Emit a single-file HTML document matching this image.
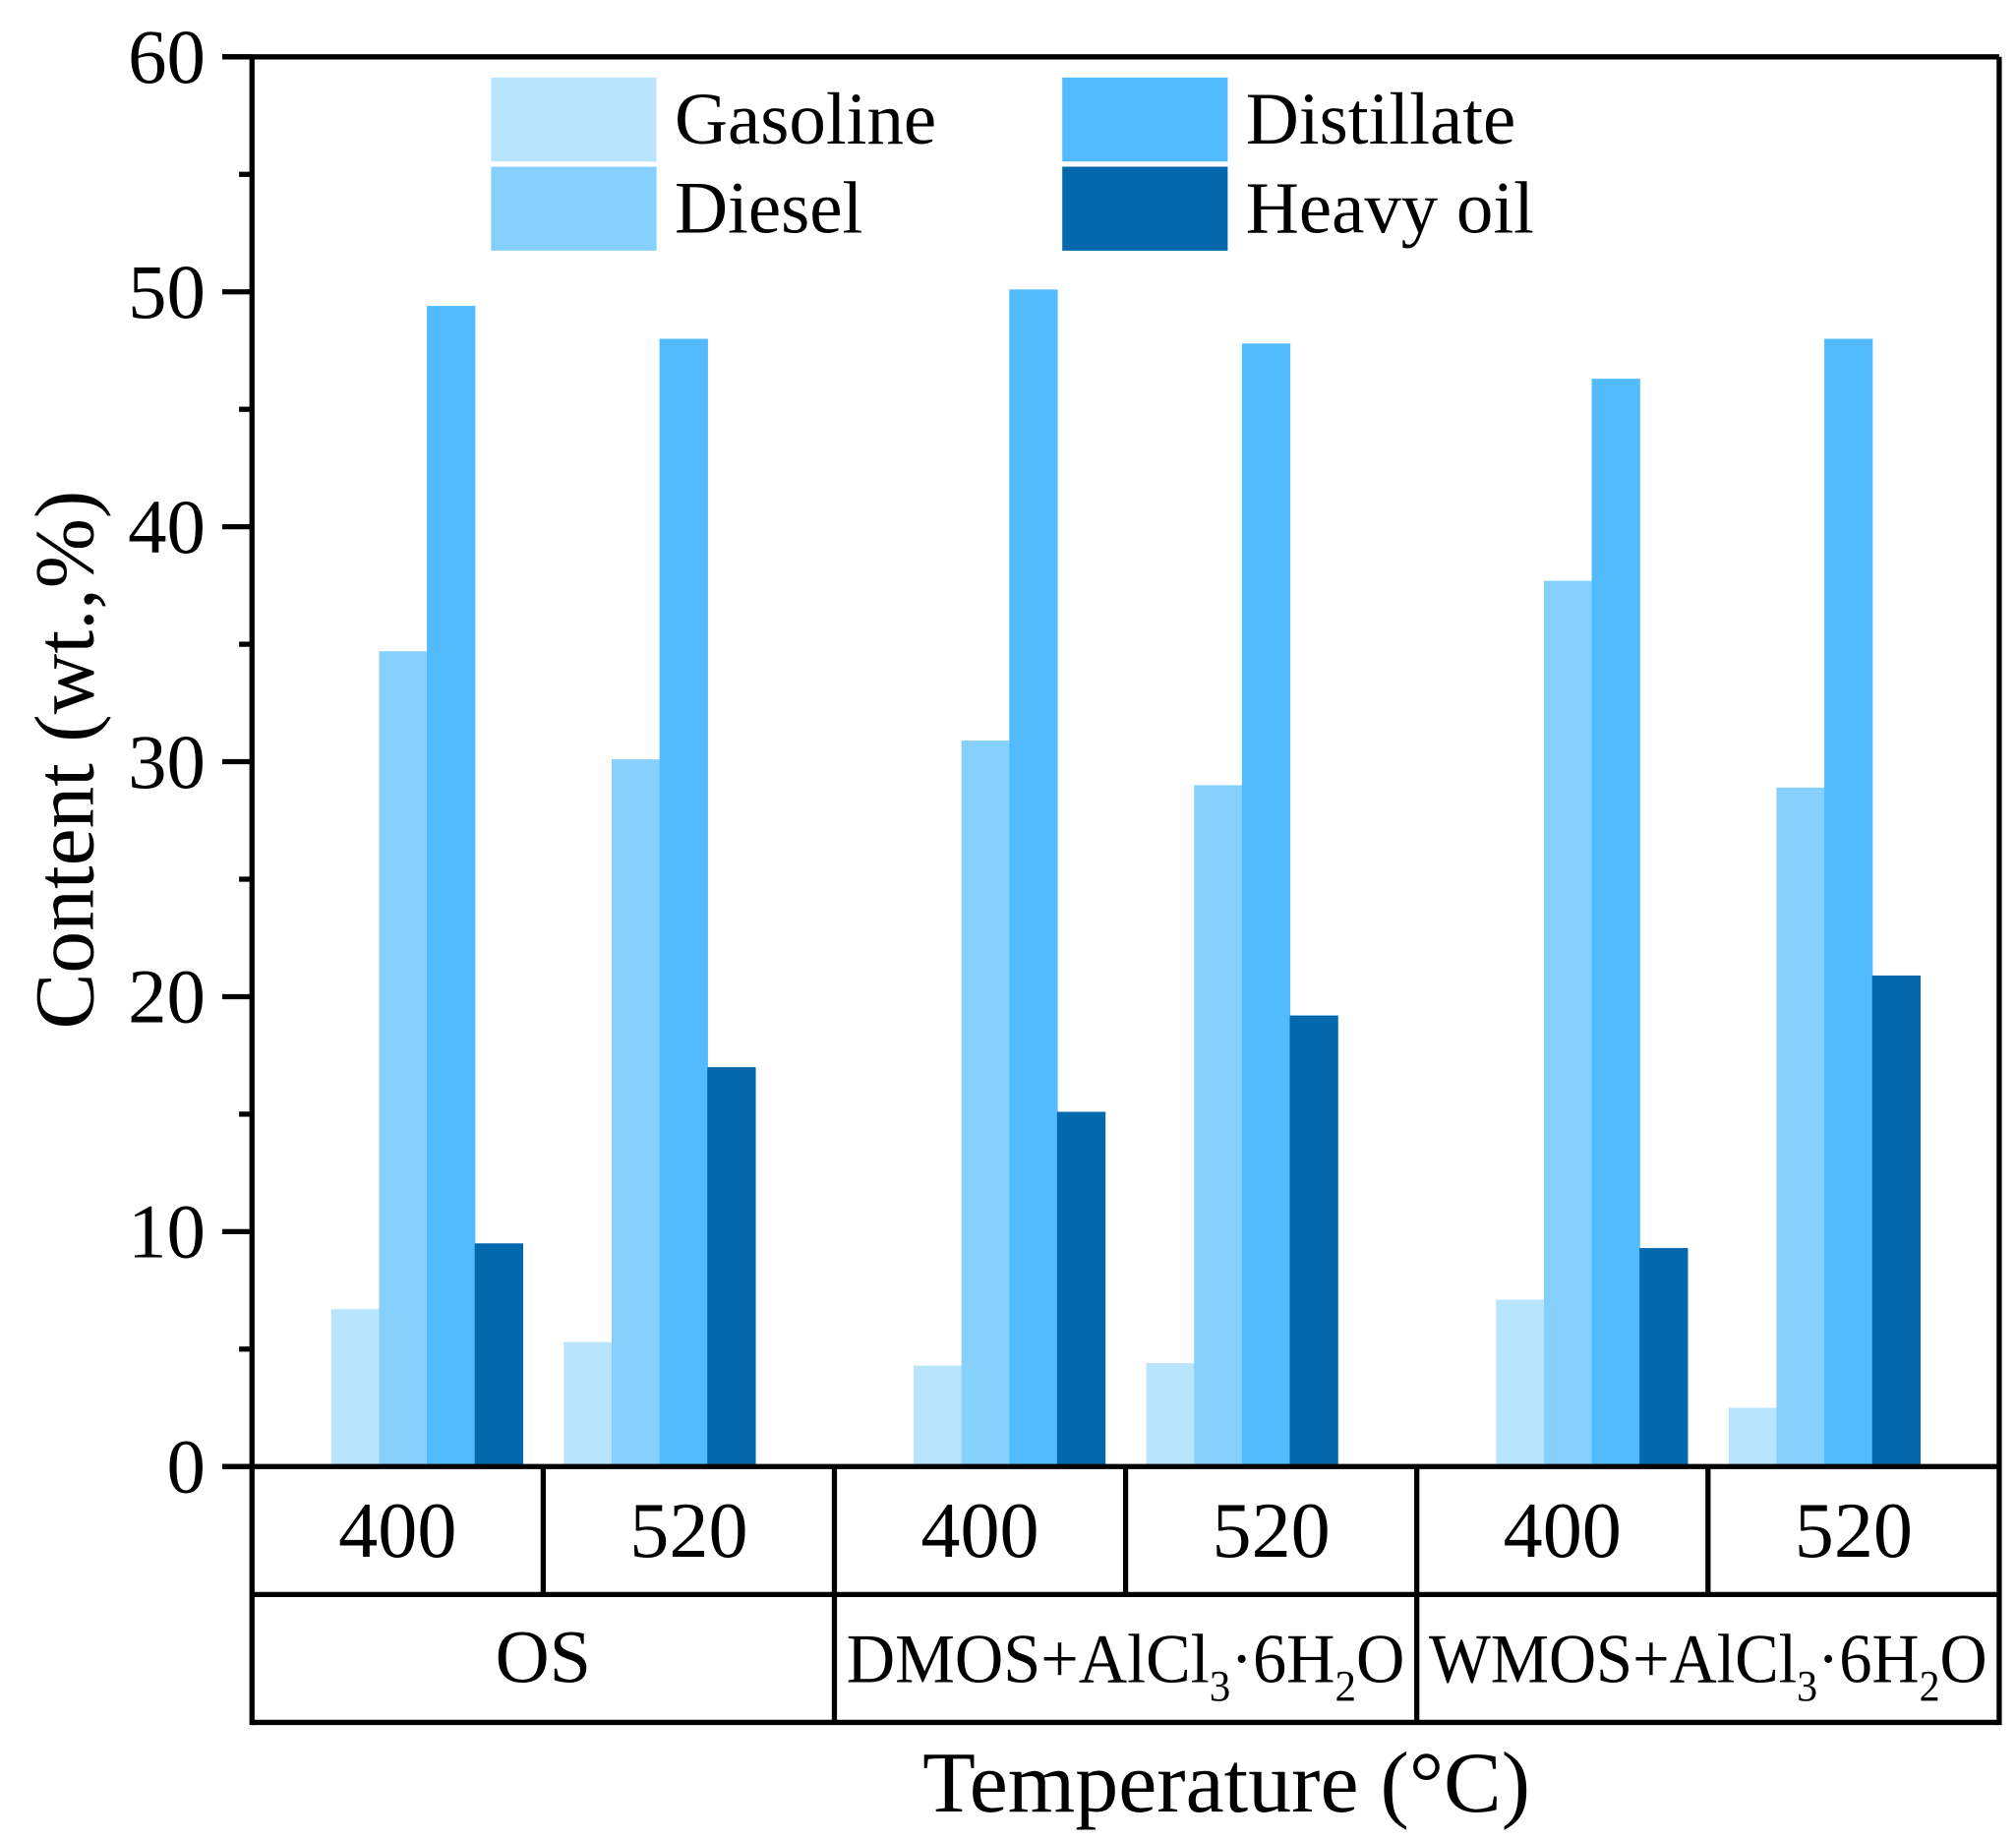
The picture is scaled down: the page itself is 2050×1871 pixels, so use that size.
<!DOCTYPE html>
<html><head><meta charset="utf-8"><style>
html,body{margin:0;padding:0;background:#fff;}
svg{display:block;font-family:"Liberation Serif",serif;}
</style></head><body>
<svg id="chart" width="2050" height="1871" viewBox="0 0 1560 1424" preserveAspectRatio="none" xmlns="http://www.w3.org/2000/svg">
<g id="bars"></g>
<g id="axes"></g>
<g id="legend"></g>
<text x="0" y="0" transform="translate(72,588) rotate(-90)" text-anchor="middle" font-size="65">Content (wt.,%)</text>
<text x="949" y="1402" text-anchor="middle" font-size="67">Temperature (°C)</text>
</svg>
<script>
const groups = ["OS", "DMOS", "WMOS"];
const temps = ["400", "520"];
const seriesNames = ["Gasoline", "Diesel", "Distillate", "Heavy oil"];
const gasoline = [6.7, 5.3, 4.3, 4.4, 7.1, 2.5];
const diesel = [34.7, 30.1, 30.9, 29.0, 37.7, 28.9];
const distillate = [49.4, 48.0, 50.1, 47.8, 46.3, 48.0];
const heavyOil = [9.5, 17.0, 15.1, 19.2, 9.3, 20.9];
const yTicks = [0, 10, 20, 30, 40, 50, 60];

const NS = "http://www.w3.org/2000/svg";
const colors = ["#b9e4fd", "#86d0fd", "#52bbfd", "#0369ac"];
const series = [gasoline, diesel, distillate, heavyOil];
const X0 = 195, X1 = 1547, Y0 = 1135, YT = 44;
const yMax = 60;
function yScale(v) { return Y0 - (v / yMax) * (Y0 - YT); }
const groupW = (X1 - X0) / groups.length;
const cellW = groupW / 2;
const barW = 37;
function barCenter(i) {
  const g = Math.floor(i / 2), t = i % 2;
  return X0 + groupW * (g + 0.5) + (t === 0 ? -90 : 90);
}
function mk(tag, attrs, parent) {
  const e = document.createElementNS(NS, tag);
  for (const k in attrs) e.setAttribute(k, attrs[k]);
  parent.appendChild(e);
  return e;
}
const barsG = document.getElementById('bars');
series.forEach((vals, s) => {
  vals.forEach((v, i) => {
    const x = barCenter(i) - 2 * barW + s * barW;
    const r = mk('rect', {x: x, y: yScale(v), width: barW + 0.5, height: Y0 - yScale(v), fill: colors[s]}, barsG);
    
    
  });
});
const ax = document.getElementById('axes');
const L = {stroke: '#000', 'stroke-width': 4, fill: 'none'};
function line(x1, y1, x2, y2, name) {
  const l = mk('line', Object.assign({x1, y1, x2, y2}, L), ax);
  
  
}
line(X0, YT, X0, 1335, 'y-axis-line');
line(172, YT, X1, YT, 'top-border');
line(X1, YT, X1, 1335, 'right-border');
line(172, Y0, X1, Y0, 'x-axis-line');
line(X0, 1234, X1, 1234, 'table-row-divider');
line(X0, 1333, X1, 1333, 'table-bottom');
for (let k = 1; k < 6; k++) {
  const x = X0 + cellW * k;
  line(x, Y0, x, k % 2 === 0 ? 1333 : 1234, 'table-column-divider');
}
yTicks.forEach(t => {
  const y = yScale(t);
  line(172, y, X0, y, 'y-tick');
  const tx = mk('text', {x: 159, y: y + 20, 'text-anchor': 'end', 'font-size': 60}, ax);
  tx.textContent = t;
  
  
});
for (let t = 5; t < 60; t += 10) {
  const y = yScale(t);
  line(185, y, X0, y, 'y-minor-tick');
}
for (let i = 0; i < 6; i++) {
  const tx = mk('text', {x: X0 + cellW * (i + 0.5), y: 1205, 'text-anchor': 'middle', 'font-size': 61}, ax);
  tx.textContent = temps[i % 2];
  
  
}
groups.forEach((g, i) => {
  const tx = mk('text', {x: X0 + groupW * (i + 0.5), y: 1302, 'text-anchor': 'middle', 'font-size': g === 'OS' ? 58 : 54}, ax);
  if (g === 'OS') tx.textContent = 'OS';
  else {
    tx.innerHTML = g + '+AlCl<tspan font-size="34" dy="14">3</tspan><tspan dy="-14">·6H</tspan><tspan font-size="34" dy="14">2</tspan><tspan dy="-14">O</tspan>';
    tx.setAttribute('textLength', 432);
    tx.setAttribute('lengthAdjust', 'spacingAndGlyphs');
  }
  
  
});
const lg = document.getElementById('legend');
const legPos = [[380, 60], [822, 60], [380, 129], [822, 129]];
const legOrder = [0, 2, 1, 3];
legOrder.forEach((s, k) => {
  const [x, y] = legPos[k];
  const r = mk('rect', {x: x, y: y, width: 128, height: 65, fill: colors[s]}, lg);
  
  
  const t = mk('text', {x: x + 142, y: y + 51, 'font-size': 57}, lg);
  t.textContent = seriesNames[s];
  
  
});
</script>
</body></html>
